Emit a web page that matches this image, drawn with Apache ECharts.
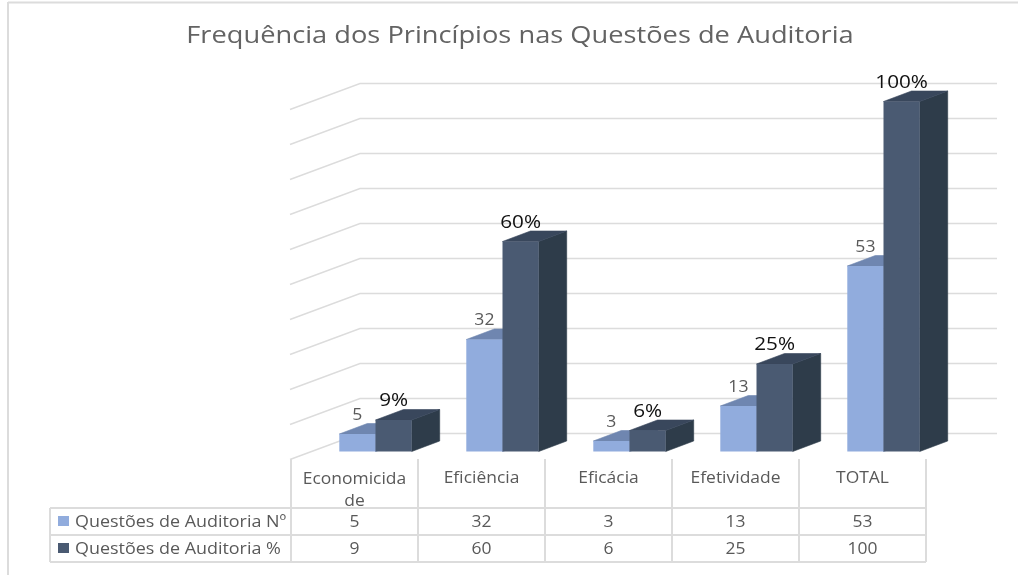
<!DOCTYPE html>
<html><head><meta charset="utf-8">
<style>html,body{margin:0;padding:0;background:#fff}#c{width:1018px;height:575px}</style>
<script src="https://cdn.jsdelivr.net/npm/echarts@6/dist/echarts.min.js"></script>
</head><body><div id="c"></div>
<script>
const titleText = 'Frequência dos Princípios nas Questões de Auditoria';
const categories = ['Economicida\nde', 'Eficiência', 'Eficácia', 'Efetividade', 'TOTAL'];
const seriesNames = ['Questões de Auditoria Nº', 'Questões de Auditoria %'];
const questoesNumero = [5, 32, 3, 13, 53];
const questoesPercent = [9, 60, 6, 25, 100];
const gridTicks = [0, 10, 20, 30, 40, 50, 60, 70, 80, 90, 100];

const FONT = '"Open Sans"';
const GRID = {left: 291, top: 101.5, width: 635, height: 350};
const BAR_W = 36.2, OFF_X = 21, DX = 28, DY = 10.5;
const WALL_DX = 70, WALL_DY = 26, BACK_UP = 18, WALL_RIGHT = 997;
const LINE = '#dcdcdc';
const STYLES = [
  {front: '#91acdd', top: '#6f86b0', side: '#6f86b0', label: '#595959', size: 16, sx: 1.1, suffix: ''},
  {front: '#4a5a72', top: '#39475c', side: '#2e3c4a', label: '#111111', size: 18, sx: 1.15, suffix: '%'}
];

function poly(points, fill) {
  return {type: 'polygon', shape: {points}, style: {fill, stroke: fill, lineWidth: 0.6}};
}
function barRenderer(k) {
  return function (params, api) {
    const top = api.coord([api.value(0), api.value(1)]);
    const base = api.coord([api.value(0), 0]);
    const s = STYLES[k];
    const x0 = top[0] + OFF_X + (k - 1) * BAR_W, x1 = x0 + BAR_W;
    const yt = top[1], yb = base[1];
    return {type: 'group', children: [
      poly([[x1, yb], [x1 + DX, yb - DY], [x1 + DX, yt - DY], [x1, yt]], s.side),
      poly([[x0, yt], [x0 + DX, yt - DY], [x1 + DX, yt - DY], [x1, yt]], s.top),
      {type: 'rect', shape: {x: x0, y: yt, width: BAR_W, height: yb - yt}, style: {fill: s.front}},
      {type: 'text', x: (x0 + x1) / 2, y: yt - 19, scaleX: s.sx, style: {
        text: api.value(1) + s.suffix, fill: s.label,
        font: s.size + 'px ' + FONT, align: 'center', verticalAlign: 'middle'}}
    ]};
  };
}
function gridRenderer(params, api) {
  const p = api.coord([0, api.value(0)]);
  const y = p[1] - BACK_UP, xb = GRID.left + WALL_DX - 1;
  return {type: 'polyline', shape: {points: [[xb - WALL_DX, y + WALL_DY], [xb, y], [WALL_RIGHT, y]]},
    style: {stroke: LINE, lineWidth: 1.4, fill: null}};
}

/* data table and frame */
const colX = categories.map((_, i) => GRID.left + i * GRID.width / categories.length);
const colRight = GRID.left + GRID.width;
const rowY = [459, 508, 535, 562];
function hline(x1, x2, y) { return {type: 'line', shape: {x1, y1: y, x2, y2: y}, style: {stroke: LINE, lineWidth: 2}}; }
function vline(x, y1, y2) { return {type: 'line', shape: {x1: x, y1, x2: x, y2}, style: {stroke: LINE, lineWidth: 2}}; }
function txt(x, y, text, size, fill, align, sx) {
  return {type: 'text', x, y, scaleX: sx, style: {text, fill, font: size + 'px ' + FONT, align, verticalAlign: 'middle', lineHeight: 22}};
}
const colW = GRID.width / categories.length;
const graphics = [
  vline(8, 2, 575), hline(8, 1018, 2.5),
  txt(520, 36, titleText, 24, '#636363', 'center', 1.135),
  vline(50, 508, 562), hline(50, colRight, 508), hline(50, colRight, 535), hline(50, colRight, 562)
];
colX.concat([colRight]).forEach(x => graphics.push(vline(x, rowY[0], rowY[3])));
categories.forEach((c, i) => {
  const cx = colX[i] + colW / 2;
  graphics.push(txt(cx, c.indexOf('\n') >= 0 ? 490 : 478, c, 16, '#595959', 'center', 1.09));
  graphics.push(txt(cx, 522, String(questoesNumero[i]), 16, '#595959', 'center', 1.09));
  graphics.push(txt(cx, 549, String(questoesPercent[i]), 16, '#595959', 'center', 1.09));
});
seriesNames.forEach((n, k) => {
  const y = 521 + k * 27;
  graphics.push({type: 'rect', shape: {x: 58, y: y - 5, width: 11, height: 10}, style: {fill: STYLES[k].front}});
  graphics.push(txt(75, y + 1, n, 16, '#595959', 'left', 1.12));
});

const chart = echarts.init(document.getElementById('c'), null, {renderer: 'canvas'});
chart.setOption({
  animation: false,
  backgroundColor: '#ffffff',
  grid: GRID,
  xAxis: {type: 'category', data: categories, show: false},
  yAxis: {type: 'value', min: 0, max: 100, interval: 10, show: false},
  graphic: graphics,
  series: [
    {type: 'custom', name: 'grid', renderItem: gridRenderer, data: gridTicks.map(v => [v]),
      encode: {y: 0}, silent: true, z: 1},
    {type: 'custom', name: seriesNames[0], renderItem: barRenderer(0),
      data: questoesNumero.map((v, i) => [i, v]), encode: {x: 0, y: 1}, z: 2},
    {type: 'custom', name: seriesNames[1], renderItem: barRenderer(1),
      data: questoesPercent.map((v, i) => [i, v]), encode: {x: 0, y: 1}, z: 3}
  ]
});
</script></body></html>
